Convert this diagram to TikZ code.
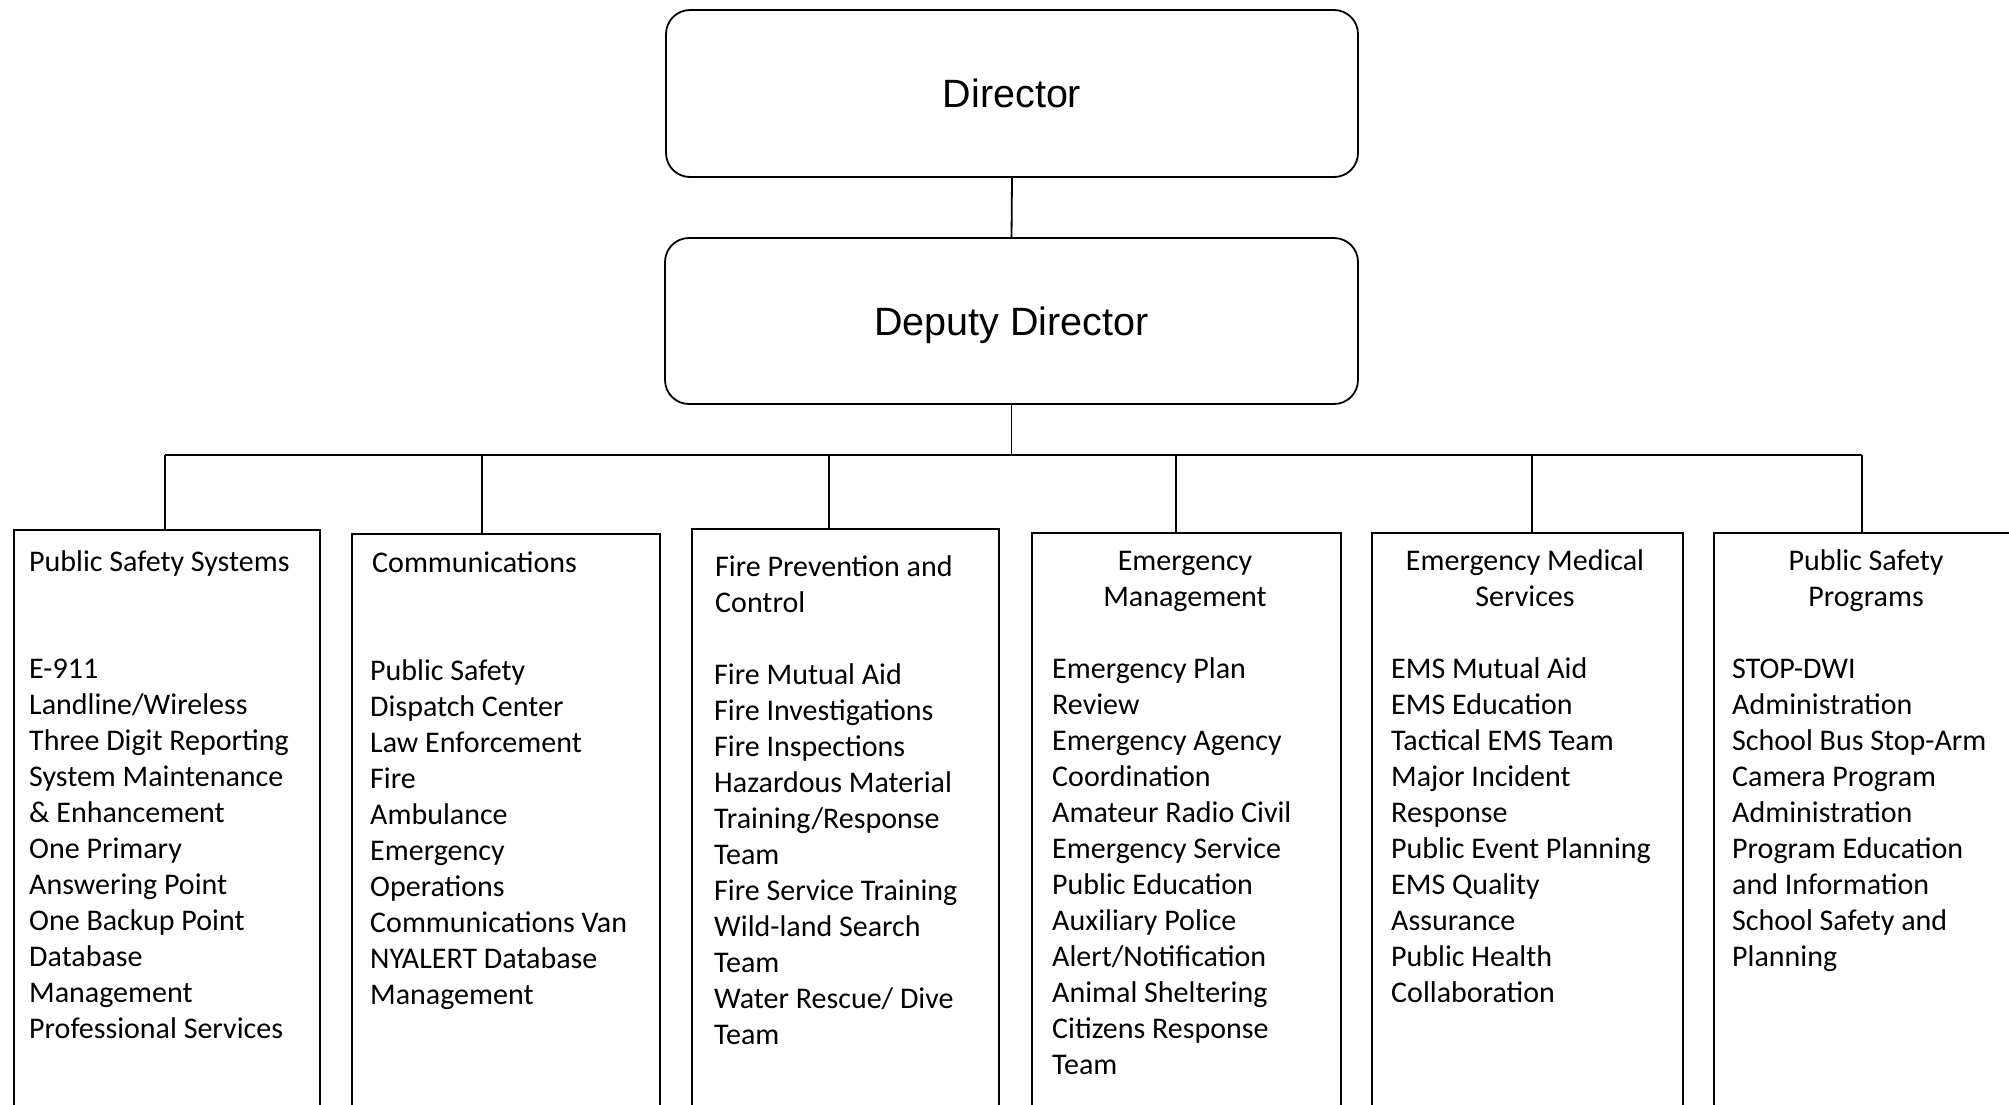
\documentclass[tikz,border=0pt]{standalone}
\usepackage{fontspec}
\setmainfont{Carlito}
\newfontfamily\headfont{Liberation Sans}
\tikzset{
  topbox/.style={draw, line width=1.8pt, rounded corners=24pt, inner sep=0pt,
    text height=28.3pt, text depth=0pt,
    font=\headfont\fontsize{39.5}{46}\selectfont},
  colbox/.style={draw, line width=1.8pt, anchor=north west, inner sep=0pt, minimum height=640pt},
  coltext/.style={inner sep=0pt, anchor=north west, align=left, font=\fontsize{30}{36}\selectfont},
  coltitle/.style={inner sep=0pt, anchor=north, align=center, font=\fontsize{30}{36}\selectfont},
  link/.style={line width=1.8pt}
}
\begin{document}
\begin{tikzpicture}[x=1pt,y=-1pt]
\useasboundingbox (0,0) rectangle (2009,1104);
\clip (0,0) rectangle (2009,1104);

% top boxes
\node[topbox, minimum width=692pt, minimum height=167pt] (dir) at (1012,93.5) {Director};
\node[topbox, minimum width=693pt, minimum height=166pt] (dep) at (1011.5,321) {Deputy Director};
\draw[link] (dir.south) -- (dep.north);

% bus junctions
\coordinate (j1) at (165,455);
\coordinate (j2) at (482,455);
\coordinate (j3) at (829,455);
\coordinate (j4) at (1176,455);
\coordinate (j5) at (1532,455);
\coordinate (j6) at (1862,455);
\draw[link] (dep.south) -- (dep.south |- j1);
\draw[link] (j1) -- (j6);

% column boxes
\node[colbox, minimum width=306pt] (b1) at (13,529) {};
\node[colbox, minimum width=308pt] (b2) at (351,533) {};
\node[colbox, minimum width=307pt] (b3) at (691,528) {};
\node[colbox, minimum width=309pt] (b4) at (1031,532) {};
\node[colbox, minimum width=311pt] (b5) at (1371,532) {};
\node[colbox, minimum width=310pt] (b6) at (1713,532) {};

\draw[link] (j1) -- (j1 |- b1.north);
\draw[link] (j2) -- (j2 |- b2.north);
\draw[link] (j3) -- (j3 |- b3.north);
\draw[link] (j4) -- (j4 |- b4.north);
\draw[link] (j5) -- (j5 |- b5.north);
\draw[link] (j6) -- (j6 |- b6.north);

% box 1
\node[coltext] (t1) at (29,546) {\strut Public Safety Systems};
\node[coltext] (i1) at (29,653) {\strut E-911\\Landline/Wireless\\Three Digit Reporting\\System Maintenance\\\& Enhancement\\One Primary\\Answering Point\\One Backup Point\\Database\\Management\\Professional Services};

% box 2
\node[coltext] (t2) at (372,547) {\strut Communications};
\node[coltext] (i2) at (370,655) {\strut Public Safety\\Dispatch Center\\Law Enforcement\\Fire\\Ambulance\\Emergency\\Operations\\Communications Van\\NYALERT Database\\Management};

% box 3
\node[coltext] (t3) at (715,551) {\strut Fire Prevention and\\Control};
\node[coltext] (i3) at (714,659) {\strut Fire Mutual Aid\\Fire Investigations\\Fire Inspections\\Hazardous Material\\Training/Response\\Team\\Fire Service Training\\Wild-land Search\\Team\\Water Rescue/ Dive\\Team};

% box 4
\node[coltitle] (t4) at (1185,545) {\strut Emergency\\Management};
\node[coltext] (i4) at (1052,653) {\strut Emergency Plan\\Review\\Emergency Agency\\Coordination\\Amateur Radio Civil\\Emergency Service\\Public Education\\Auxiliary Police\\Alert/Notification\\Animal Sheltering\\Citizens Response\\Team};

% box 5
\node[coltitle] (t5) at (1525,545) {\strut Emergency Medical\\Services};
\node[coltext] (i5) at (1391,653) {\strut EMS Mutual Aid\\EMS Education\\Tactical EMS Team\\Major Incident\\Response\\Public Event Planning\\EMS Quality\\Assurance\\Public Health\\Collaboration};

% box 6
\node[coltitle] (t6) at (1866,545) {\strut Public Safety\\Programs};
\node[coltext] (i6) at (1732,653) {\strut STOP-DWI\\Administration\\School Bus Stop-Arm\\Camera Program\\Administration\\Program Education\\and Information\\School Safety and\\Planning};
\end{tikzpicture}
\end{document}
